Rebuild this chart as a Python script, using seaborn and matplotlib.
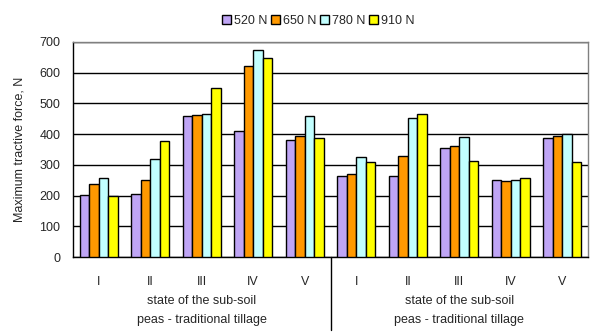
import matplotlib
matplotlib.use("Agg")
import matplotlib.pyplot as plt
import matplotlib.transforms as mtransforms
import seaborn as sns
import pandas as pd
import numpy as np

categories = ["I", "II", "III", "IV", "V", "I", "II", "III", "IV", "V"]
loads = ["520 N", "650 N", "780 N", "910 N"]
v520 = [203, 206, 459, 411, 381, 265, 265, 356, 251, 389]
v650 = [238, 251, 463, 622, 394, 269, 330, 360, 248, 394]
v780 = [258, 320, 466, 674, 459, 327, 454, 392, 251, 399]
v910 = [199, 378, 550, 648, 386, 310, 464, 313, 256, 310]
group_label = ["state of the sub-soil", "peas - traditional tillage"]
colors = ["#BFA5F5", "#FF9900", "#C2FFFF", "#FFFF00"]

rows = []
for series, vals in zip(loads, [v520, v650, v780, v910]):
    for i, v in enumerate(vals):
        rows.append({"pos": i, "load": series, "force": v})
df = pd.DataFrame(rows)

sns.set_style("white")
plt.rcParams["font.family"] = ["Liberation Sans", "DejaVu Sans"]

fig = plt.figure(figsize=(6.16, 3.36), dpi=100)
L, R, T, B = 73, 588, 42, 257
ax = fig.add_axes([L / 616, 1 - B / 336, (R - L) / 616, (B - T) / 336])

sns.barplot(data=df, x="pos", y="force", hue="load", palette=colors, saturation=1,
            width=0.74, edgecolor="black", linewidth=1.0, ax=ax,
            order=list(range(10)), hue_order=loads, legend=True, zorder=3)

ax.set_ylim(0, 700)
ax.set_xlim(-0.5, 9.5)
ax.set_yticks(range(0, 701, 100))
ax.yaxis.grid(True, color="black", linewidth=1.0, zorder=0)
ax.set_axisbelow(True)

ax.set_xticks(np.arange(-0.5, 10, 1.0))
ax.set_xticklabels([])
ax.set_xticks(range(10), minor=True)
ax.set_xticklabels(categories, minor=True)
ax.tick_params(axis="x", which="major", direction="out", length=4, color="black", width=1)
ax.tick_params(axis="x", which="minor", length=0, pad=14, labelsize=9)
ax.tick_params(axis="y", direction="out", length=4, color="black", width=1, labelsize=9, pad=5)
ax.set_xlabel("")
ax.set_ylabel("Maximum tractive force, N", fontsize=9, labelpad=10)

for side in ["top", "right"]:
    ax.spines[side].set_color("#808080")
    ax.spines[side].set_linewidth(1.0)
for side in ["left", "bottom"]:
    ax.spines[side].set_color("black")
    ax.spines[side].set_linewidth(1.0)

trans = mtransforms.blended_transform_factory(ax.transData, ax.transAxes)
ax.plot([4.5, 4.5], [0, -0.34], color="black", linewidth=1.0, transform=trans, clip_on=False)
for cx in [2, 7]:
    ax.text(cx, -0.205, group_label[0], transform=trans, ha="center", va="center", fontsize=9)
    ax.text(cx, -0.293, group_label[1], transform=trans, ha="center", va="center", fontsize=9)

handles, labels = ax.get_legend_handles_labels()
ax.legend(handles, labels, loc="center", bbox_to_anchor=(318 / 616, 1 - 21 / 336),
          bbox_transform=fig.transFigure, ncol=4, frameon=False, fontsize=9,
          handlelength=0.7, handleheight=0.7, handletextpad=0.25, columnspacing=0.3,
          borderpad=0)

fig.savefig("out.png", dpi=100)
